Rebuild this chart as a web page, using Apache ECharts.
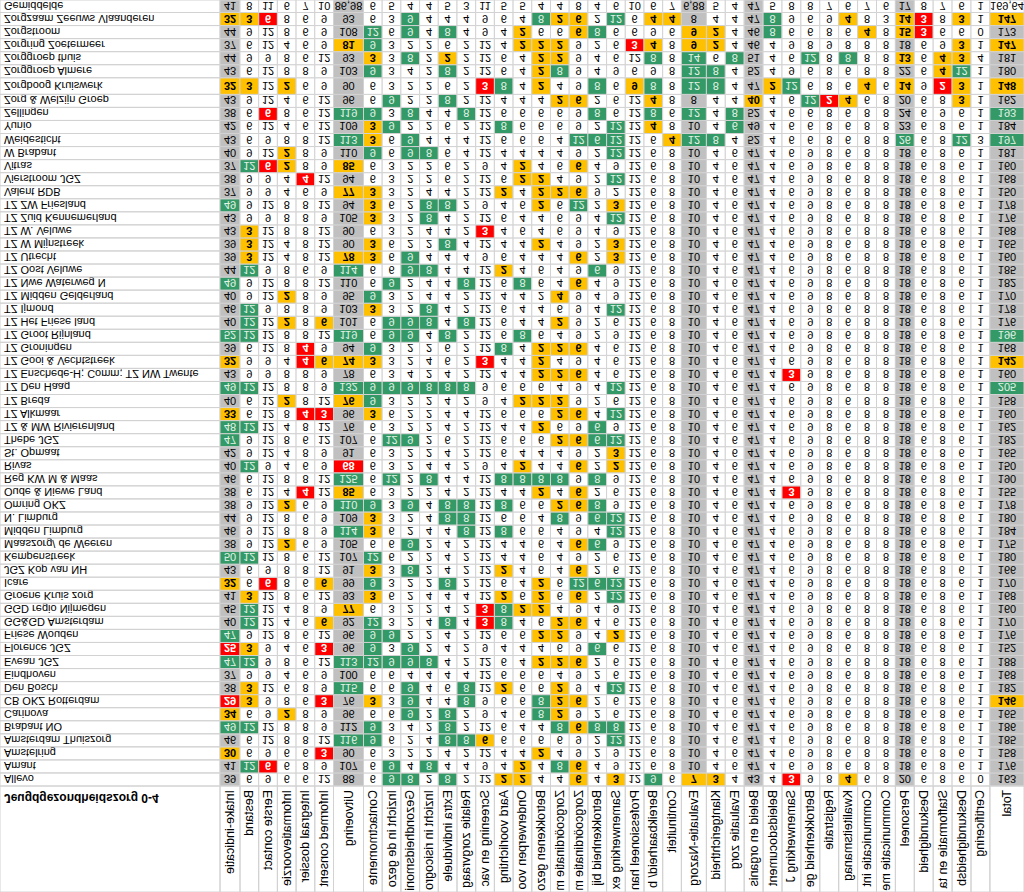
<!DOCTYPE html>
<html>
<head>
<meta charset="utf-8">
<title>Jeugdgezondheidszorg 0-4</title>
<script src="https://cdn.jsdelivr.net/npm/echarts@6.0.0/dist/echarts.min.js"></script>
<style>
  html, body { margin: 0; padding: 0; background: #fff; }
  #chart { width: 1024px; height: 892px; transform: scaleY(-1); }
</style>
</head>
<body>
<div id="chart"></div>
<script>
// kolomkoppen
const columns = [
  'Intake-indicatie', 'Bestand', 'Eerste contact', 'Informatievoorziening', 'Integraal dossier',
  'Informed consent', 'Uitvoering', 'Contactmomenten', 'Inzicht in de gezondheidssituatie',
  'Gezondheidsmonitor', 'Inzicht in risicogroepen', 'Extra individuele zorgvraag',
  'Relatie zorgvraag en gezondheid', 'Screening en vaccinatie', 'Aard voorlichting (GI 33)',
  'Onderwerpen voorlichting', 'Betrokkenen gezondheidszorg', 'Zorgcoördinatie met externen',
  'Zorgcoördinatie met JGZ', 'Betrokkenheid bij gemeente', 'Samenwerking extern',
  'Professioneel handelen', 'Bereikbaarheid/ beschikbaarheid', 'Continuiteit', 'Evaluatie-Nazorg',
  'Klantgerichtheid', 'Evaluatie zorg', 'Beleid en organisatie', 'Beleidsdocumenten en plannen',
  'Samenwerking JGZ 4-19', 'Betrokkenheid gemeente', 'Registratie', 'Kwaliteitsmanagement',
  'Communicatie intern', 'Communicatie met gemeente', 'Personeel', 'Deskundigheid',
  'Stafformatie en takenpakket', 'Deskundigheidsbevordering', 'Certificering', 'Total'
];

const rows = [
  'Allevo', 'Amant', 'Amstelring', 'Amsterdam Thuiszorg', 'Brabant NO', 'Carinova',
  'CB OKZ Rotterdam', 'Den Bosch', 'Eindhoven', 'Evean JGZ', 'Florence JGZ', 'Friese Wouden',
  'GG&GD Amsterdam', 'GGD regio Nijmegen', 'Groene Kruis zorg', 'Icare', 'JGZ Kop van NH',
  'Kempenstreek', 'Maaszorg/ de Weeren', 'Midden Limburg', 'N. Limburg', 'Omring OKZ',
  'Oude & Niewe Land', 'Reg KW M & Maas', 'Rivas', 'St. Opmaat', 'Thebe JGZ',
  'TZ & MW Rivierenland', 'TZ Alkmaar', 'TZ Breda', 'TZ Den Haag',
  'TZ Enschede-H; Comm; TZ NW Twente', 'TZ Gooi & Vechtstreek', 'TZ Groningen',
  'TZ Groot Rijnland', 'TZ Het Friese land', 'TZ Ijmond', 'TZ Midden Gelderland',
  'TZ Nwe Waterweg N', 'TZ Oost Veluwe', 'TZ Utrecht', 'TZ W Mijnstreek', 'TZ W. Veluwe',
  'TZ Zuid Kennemerland', 'TZ ZW Friesland', 'Valent RDB', 'Vierstroom JGZ', 'Vitras',
  'W Brabant', 'Weidesticht', 'Yunio', 'Zellingen', 'Zorg & Welzijn Groep',
  'Zorgboog Kruiswerk', 'Zorggroep Almere', 'Zorggroep thuis', 'Zorgring Zoetermeer',
  'Zorgstroom', 'Zorgzaam Zeeuws Vlaanderen', 'Gemiddelde'
];

// scores per organisatie, kolom voor kolom (41 kolommen)
const scores = [
  [39,6,9,6,6,12,88,6,9,8,2,8,2,12,2,2,4,4,6,4,3, 12,9,6,7,3,4,43,4,3,9,8,4,6,8,20,6,8,6,0,163],
  [41,12,6,6,8,9,107,6,9,4,8,4,4,9,4,2,4,8,6,4,9, 12,6,8,10,4,6,47,4,6,9,8,6,8,8,18,6,8,6,1,176],
  [30,6,9,6,6,3,90,6,3,2,2,4,2,12,4,4,2,4,9,2,9, 12,6,8,10,4,6,47,4,6,9,8,6,8,8,18,6,8,6,1,158],
  [46,6,12,8,8,12,116,9,6,2,4,8,8,6,6,6,6,6,9,2,12, 12,6,8,10,4,6,47,4,6,9,8,6,8,8,18,6,8,6,1,185],
  [49,12,12,8,8,9,112,9,3,4,2,8,2,12,6,4,4,8,6,8,8, 12,6,8,10,4,6,47,4,6,9,8,6,8,8,18,6,8,6,1,186],
  [34,6,9,2,8,9,96,6,6,9,2,8,2,9,4,6,8,2,9,2,6, 12,6,8,10,4,6,47,4,6,9,8,6,8,8,18,6,8,6,1,165],
  [29,3,9,8,6,3,76,3,3,9,4,4,8,9,6,6,8,2,6,2,6, 12,6,8,10,4,6,47,4,6,9,8,6,8,8,18,6,8,6,1,146],
  [38,3,12,6,8,9,115,6,6,9,4,6,8,12,2,6,6,2,9,4,12, 12,6,8,10,4,6,47,4,6,9,8,6,8,8,18,6,8,6,1,182],
  [37,9,9,4,6,9,100,6,6,4,4,4,4,12,6,6,6,4,9,2,6, 12,6,8,10,4,6,47,4,6,9,8,6,8,8,18,6,8,6,1,168],
  [47,12,9,8,6,12,113,12,9,9,8,4,2,12,6,4,2,2,6,2,6, 12,6,8,10,4,6,47,4,6,9,8,6,8,8,18,6,8,6,1,188],
  [25,3,9,4,6,3,96,9,3,9,2,4,2,9,4,4,4,6,9,6,6, 12,6,8,10,4,6,47,4,6,9,8,6,8,8,18,6,8,6,1,152],
  [47,9,12,8,6,12,96,9,9,2,2,4,2,12,6,6,2,2,9,4,2, 12,6,8,10,4,6,47,4,6,9,8,6,8,8,18,6,8,6,1,176],
  [40,12,12,4,6,6,92,12,3,2,4,8,4,3,8,4,6,2,6,4,6, 12,6,8,10,4,6,47,4,6,9,8,6,8,8,18,6,8,6,1,170],
  [45,12,12,4,8,9,77,6,3,2,2,4,2,3,8,2,2,4,9,4,9, 12,6,8,10,4,6,47,4,6,9,8,6,8,8,18,6,8,6,1,160],
  [41,3,12,8,6,12,93,3,6,2,4,4,4,12,2,6,2,6,6,2,12, 12,6,8,10,4,6,47,4,6,9,8,6,8,8,18,6,8,6,1,168],
  [32,6,6,8,6,6,99,9,3,2,2,8,2,12,6,4,2,6,12,6,12, 12,6,8,10,4,6,47,4,6,9,8,6,8,8,18,6,8,6,1,170],
  [43,6,9,8,8,12,91,3,3,8,2,4,2,12,2,4,6,4,6,2,6, 12,6,8,10,4,6,47,4,6,9,8,6,8,8,18,6,8,6,1,166],
  [50,12,12,8,6,12,107,12,6,2,2,4,2,12,4,4,6,4,9,2,6, 12,6,8,10,4,6,47,4,6,9,8,6,8,8,18,6,8,6,1,180],
  [38,9,12,2,6,9,105,6,6,9,2,4,2,12,4,4,6,4,6,6,9, 12,6,8,10,4,6,47,4,6,9,8,6,8,8,18,6,8,6,1,175],
  [46,9,12,8,8,9,114,3,6,2,4,4,8,12,8,6,6,4,9,4,12, 12,6,8,10,4,6,47,4,6,9,8,6,8,8,18,6,8,6,1,184],
  [44,9,12,8,6,9,109,3,3,2,4,8,8,12,6,6,4,8,9,6,12, 12,6,8,10,4,6,47,4,6,9,8,6,8,8,18,6,8,6,1,180],
  [38,9,12,2,6,9,110,9,3,9,4,8,8,12,8,6,6,2,6,8,9, 12,6,8,10,4,6,47,4,6,9,8,6,8,8,18,6,8,6,1,178],
  [38,6,12,4,4,12,85,6,3,2,2,4,2,12,4,4,2,4,6,2,6, 12,6,8,10,4,6,47,4,3,9,8,6,8,8,18,6,8,6,1,155],
  [46,6,12,8,8,12,125,6,12,2,8,4,4,12,8,8,8,8,9,8,9, 12,6,8,10,4,6,47,4,6,9,8,6,8,8,18,6,8,6,1,190],
  [40,12,9,4,6,9,68,6,3,2,4,4,2,9,4,2,4,4,6,2,2, 12,6,8,10,4,6,47,4,6,9,8,6,8,8,18,6,8,6,1,150],
  [42,9,12,4,8,9,91,6,3,2,2,4,2,12,6,4,4,4,9,2,3, 12,6,8,10,4,6,47,4,6,9,8,6,8,8,18,6,8,6,1,165],
  [47,9,12,8,6,12,107,6,12,9,2,6,2,12,6,6,6,2,6,6,12, 12,6,8,10,4,6,47,4,6,9,8,6,8,8,18,6,8,6,1,182],
  [48,12,12,4,8,12,76,6,3,2,2,4,2,12,4,4,2,6,9,6,9, 12,6,8,10,4,6,47,4,6,9,8,6,8,8,18,6,8,6,1,162],
  [33,6,12,8,4,3,96,3,6,2,2,4,4,12,6,6,6,2,6,4,12, 12,6,8,10,4,6,47,4,6,9,8,6,8,8,18,6,8,6,1,160],
  [40,6,12,2,8,12,76,9,3,2,2,4,2,9,4,2,2,2,9,2,6, 12,6,8,10,4,6,47,4,6,9,8,6,8,8,18,6,8,6,1,158],
  [49,12,12,8,8,9,132,9,9,9,8,8,8,9,6,6,6,4,9,4,12, 12,6,8,10,4,6,47,4,6,9,8,6,8,8,18,6,8,6,1,205],
  [43,9,9,8,8,9,78,6,3,4,2,4,2,12,4,4,2,2,6,4,6, 12,6,8,10,4,6,47,4,3,9,8,6,8,8,18,6,8,6,1,160],
  [32,9,9,4,4,6,74,3,3,2,4,6,2,3,4,4,2,4,9,4,6, 12,6,8,10,4,6,47,4,6,9,8,6,8,8,18,6,8,6,1,142],
  [39,6,12,8,4,9,94,9,3,2,2,6,2,12,8,4,2,2,6,4,6, 12,6,8,10,4,6,47,4,6,9,8,6,8,8,18,6,8,6,1,168],
  [52,12,12,8,8,12,119,6,9,9,4,8,2,12,6,8,6,4,9,2,9, 12,6,8,10,4,6,47,4,6,9,8,6,8,8,18,6,8,6,1,196],
  [40,12,12,2,8,6,101,6,9,9,8,4,8,12,6,4,4,2,9,2,6, 12,6,8,10,4,6,47,4,6,9,8,6,8,8,18,6,8,6,1,176],
  [46,12,9,8,8,9,103,3,3,2,8,4,2,12,6,4,4,6,9,4,12, 12,6,8,10,4,6,47,4,6,9,8,6,8,8,18,6,8,6,1,178],
  [40,9,12,2,8,9,95,9,3,2,4,4,2,12,4,4,2,4,9,4,9, 12,6,8,10,4,6,47,4,6,9,8,6,8,8,18,6,8,6,1,170],
  [49,9,12,8,8,12,110,6,9,2,4,4,8,12,6,8,6,4,6,4,9, 12,6,8,10,4,6,47,4,6,9,8,6,8,8,18,6,8,6,1,182],
  [44,12,9,8,6,9,114,6,6,9,8,4,4,12,2,4,6,4,9,6,9, 12,6,8,10,4,6,47,4,6,9,8,6,8,8,18,6,8,6,1,185],
  [39,3,12,4,8,12,78,3,6,9,4,4,4,9,6,4,4,4,6,2,3, 12,6,8,10,4,6,47,4,6,9,8,6,8,8,18,6,8,6,1,160],
  [39,3,12,4,8,12,90,3,6,2,2,8,4,12,4,4,2,4,9,2,3, 12,6,8,10,4,6,47,4,6,9,8,6,8,8,18,6,8,6,1,165],
  [43,3,12,8,8,12,90,6,3,2,4,4,2,3,4,6,4,6,9,4,9, 12,6,8,10,4,6,47,4,6,9,8,6,8,8,18,6,8,6,1,168],
  [43,9,9,8,8,9,105,3,3,2,8,4,2,12,6,4,4,6,9,4,12, 12,6,8,10,4,6,47,4,6,9,8,6,8,8,18,6,8,6,1,176],
  [49,9,12,8,8,12,94,3,6,2,8,8,2,9,4,6,2,6,12,2,3, 12,6,8,10,4,6,47,4,6,9,8,6,8,8,18,6,8,6,1,178],
  [37,9,9,4,6,9,77,3,3,2,4,4,2,12,2,4,2,2,6,9,2, 12,6,8,10,4,6,47,4,6,9,8,6,8,8,18,6,8,6,1,150],
  [38,9,9,4,4,12,94,6,3,2,2,6,2,12,6,2,2,4,9,2,12, 12,6,8,10,4,6,47,4,6,9,8,6,8,8,18,6,8,6,1,168],
  [37,12,6,2,8,9,85,6,3,2,2,6,2,9,4,2,4,6,6,4,9, 12,6,8,10,4,6,47,4,6,9,8,6,8,8,18,6,8,6,1,160],
  [40,9,12,2,8,9,110,9,6,9,8,6,4,12,4,4,4,4,9,2,12, 12,6,8,10,4,6,47,4,6,9,8,6,8,8,18,6,8,6,1,181],
  [43,6,9,8,8,12,113,3,6,9,4,4,4,12,6,6,6,4,12,6,12, 12,6,4,12,8,4,52,4,6,6,8,6,8,8,26,6,8,12,3,197],
  [42,6,12,4,6,12,109,3,9,2,2,6,2,12,8,6,6,6,9,2,12, 12,4,8,10,4,6,49,4,6,6,8,6,8,8,23,6,8,6,1,184],
  [38,6,6,8,6,12,119,9,3,8,4,4,8,12,6,6,6,6,9,8,6, 12,8,6,12,4,8,52,4,6,6,8,6,8,8,24,6,9,6,1,193],
  [43,9,12,4,6,12,96,6,9,2,2,8,2,12,4,4,4,2,6,2,6, 12,4,8,8,4,4,40,4,6,12,2,4,6,8,20,6,8,3,1,162],
  [32,3,12,2,6,9,90,6,3,2,2,6,2,3,8,4,2,4,9,8,6, 9,8,8,12,8,4,47,2,12,6,8,6,4,6,14,9,2,3,1,148],
  [43,6,12,8,8,9,103,9,3,4,2,8,2,12,6,4,2,8,9,4,9, 6,9,8,12,8,4,52,4,9,6,8,6,8,8,22,6,4,12,1,180],
  [44,9,9,8,6,12,93,3,3,8,2,2,2,12,6,4,2,2,9,4,6, 12,8,8,14,6,8,51,4,6,12,8,8,8,8,13,6,4,3,4,181],
  [37,6,12,4,6,9,81,9,3,2,2,6,2,12,4,2,2,2,9,2,6, 3,4,8,9,2,4,46,4,9,8,9,8,8,8,18,6,9,3,1,147],
  [44,9,12,8,6,9,108,12,6,9,4,8,4,9,4,2,6,6,6,8,6, 6,9,6,9,2,4,46,8,6,6,8,6,4,8,15,3,6,6,0,173],
  [32,3,6,8,6,9,93,6,3,9,4,4,4,9,6,4,8,2,6,2,12, 6,4,4,8,4,4,47,8,9,6,9,4,8,3,14,3,8,3,1,147],
  [41,8,11,6,7,10,86.98,6,5,4,4,5,3,11,5,5,4,4,8,4,6, 10,6,7,6.88,5,4,47,5,8,8,7,6,7,6,17,8,7,6,1,169.64]
];

// beoordeling per cel: g = ruim voldoende, y = onvoldoende, r = ruim onvoldoende, w = geen markering
const flags = [
  '........gg.g..yy..y.y' + '.g.yy...r..y........',
  '.gr.....g.g....y.gy..' + '....................',
  'y....r..........y....' + '....................',
  '......gg...ggy......g' + '....................',
  'gg.....g...g.....gygg' + '....................',
  'y..y.....g.g....gy...' + '....................',
  'ry...r.y.g..g...gyy..' + '...................y',
  '.y....g..g..g.y..y..g' + '....................',
  '.....................' + '....................',
  'gg....ggggg.....yyy..' + '....................',
  'ry...r.g.g.........g.' + '....................',
  'g......gg.......yy..y' + '....................',
  '.g...y.g...g.rg..yy..' + '....................',
  '.g....y......rgyy....' + '....................',
  '.y.....y......y.y.y.g' + '....................',
  'y.r..y.g...g....y.ggg' + '....................',
  '.......y.g....y...y..' + '....................',
  'gg.....g.............' + '....................',
  '...y.....g........yg.' + '....................',
  '......gy....g.g.....g' + '....................',
  '.......y...gg....g.gg' + '....................',
  '...y..gg.g.gg.g..yyg.' + '....................',
  '....r.y.........y.y..' + '........r...........',
  '......g.g.g...gggg.g.' + '....................',
  '.g....r........y..y.y' + '....................',
  '....................y' + '....................',
  'g.......gg.......yygg' + '....................',
  'gg..............y..g.' + '....................',
  'y...rr.y.........yy.g' + '....................',
  '...y..yg.......yyy...' + '....................',
  'gg....ggggggg.......g' + '...................g',
  '................yyy..' + '........r...........',
  'y...ryyy.....r..y....' + '...................y',
  '....r..g......g.yyy..' + '....................',
  'gg....g.gg.g...g.....' + '...................g',
  '.g.y.y..ggg.g....y...' + '....................',
  '.g.....y..g.........g' + '....................',
  '...y...g.........y...' + '....................',
  'g.......g...g..g..y..' + '....................',
  '.g....g..gg...y....g.' + '....................',
  '.y....yy.g........y.y' + '....................',
  '.y.....y...g....y...y' + '....................',
  '.y...........r.......' + '....................',
  '.......y..g.........g' + '....................',
  'g......y..gg....y.g.y' + '....................',
  '......yy......y.yyy..' + '....................',
  '....r..........yy...g' + '....................',
  '.gry..y........y..y..' + '....................',
  '...y...g.gg.........g' + '....................',
  '......gy.g........ggg' + '..ygg.........g..g.g',
  '.......yg.....g.....g' + '.y...g..............',
  '..r...gg.g..g......g.' + '.g.g.g.............g',
  '........g..g.....yy..' + '.y....y..gry.....y..',
  'yy.y.........rg.y..g.' + 'yg.gg..yg...y.y.ry.y',
  '.......g...g....yg...' + '...gg...........yg..',
  '.......y.g.y....yy...' + '.g.g.g...g.g..y.yy..',
  '......yg.......yyy...' + 'ry.yy............y.y',
  '.......g.g.g...y..yg.' + '...yy..g....y.yr....',
  'yyr......g......gyy.g' + '.yy....g...y..yr.y.y',
  '.....................' + '...................w'
];

// opmaak
const labelWidth = 220;
const headerHeight = 106;
const colWidths = [
  20, 18.7, 18.7, 18.7, 18.7, 18.7, 30,
  18.7, 18.7, 18.7, 18.7, 18.7, 18.7, 18.7, 18.7, 18.7, 18.7, 18.7, 18.7, 18.7, 18.7, 18.7, 18.7, 18.7,
  25,
  18.9, 18.9, 18.9, 18.9, 18.9, 18.9, 18.9, 18.9, 18.9, 18.9, 18.9, 18.9, 18.9, 18.9, 18.9,
  34.1
];
const rowHeights = rows.map(n => n === 'Zorgboog Kruiswerk' ? 16.6 : (n === 'Gemiddelde' ? 12.5 : 13.05));
const grayCols = [0, 6, 24, 27, 35, 40];
const fills = { g: '#339966', y: '#ffc000', r: '#ff0000', w: '#ffffff' };
const GRAY = '#c0c0c0';
const LINE = '#d2d2d2';
const NUM_FONT = 'Arial, "Liberation Sans", sans-serif';
const LABEL_FONT = '"Liberation Sans Narrow", Arial, sans-serif';

const colEdges = [labelWidth];
colWidths.forEach(w => colEdges.push(colEdges[colEdges.length - 1] + w));
const rowEdges = [0];
rowHeights.forEach(h => rowEdges.push(rowEdges[rowEdges.length - 1] + h));

function fmt(v) {
  if (v == null) return '';
  return Number.isInteger(v) ? String(v) : v.toFixed(2).replace('.', ',');
}

const cellData = [];
rows.forEach((_, r) => columns.forEach((_, c) => cellData.push([c, r])));

function box(api, x0, x1, r) {
  const a = api.coord([x0, rowEdges[r]]);
  const b = api.coord([x1, rowEdges[r + 1]]);
  return { x: a[0], y: a[1], width: b[0] - a[0], height: b[1] - a[1] };
}

function renderCell(params, api) {
  const c = api.value(0), r = api.value(1);
  const s = box(api, colEdges[c], colEdges[c + 1], r);
  const f = flags[r][c] || '.';
  let fill = grayCols.includes(c) ? GRAY : '#ffffff';
  if (fills[f]) fill = fills[f];
  let color = '#000', weight = 'normal';
  if (f === 'y') weight = 'bold';
  if (f === 'r') { color = '#ffffff'; weight = 'bold'; }
  if (f === 'g') color = '#e3f3e6';
  return {
    type: 'group',
    children: [
      { type: 'rect', shape: s, style: { fill, stroke: LINE, lineWidth: 1 } },
      { type: 'text', x: s.x + s.width / 2, y: s.y + s.height / 2 + 0.5,
        style: { text: fmt(scores[r][c]), align: 'center', verticalAlign: 'middle',
          fontFamily: NUM_FONT, fontSize: 11, fontWeight: weight, fill: color } }
    ]
  };
}

function renderRowLabel(params, api) {
  const r = api.value(1);
  const s = box(api, 0, labelWidth, r);
  return {
    type: 'group',
    children: [
      { type: 'rect', shape: s, style: { fill: 'none', stroke: LINE, lineWidth: 1 } },
      { type: 'text', x: s.x + 4, y: s.y + s.height / 2 + 0.5,
        style: { text: rows[r], align: 'left', verticalAlign: 'middle',
          fontFamily: LABEL_FONT, fontSize: 11, fill: '#000' } }
    ]
  };
}

function renderHeader(params, api) {
  const c = api.value(0);
  const top = params.coordSys.y;
  if (c < 0) {
    const a = api.coord([0, 0]);
    const b = api.coord([labelWidth, 0]);
    return { type: 'rect', shape: { x: a[0], y: 0, width: b[0] - a[0], height: top },
      style: { fill: 'none', stroke: LINE, lineWidth: 1 } };
  }
  const a = api.coord([colEdges[c], 0]);
  const b = api.coord([colEdges[c + 1], 0]);
  return {
    type: 'group',
    children: [
      { type: 'rect', shape: { x: a[0], y: 0, width: b[0] - a[0], height: top },
        style: { fill: 'none', stroke: LINE, lineWidth: 1 } },
      { type: 'text', x: (a[0] + b[0]) / 2, y: top - 4, rotation: Math.PI / 2,
        style: { text: columns[c], align: 'left', verticalAlign: 'middle',
          width: top - 3, overflow: 'truncate', ellipsis: '',
          fontFamily: LABEL_FONT, fontSize: 12.5, fill: '#000' } }
    ]
  };
}

const chart = echarts.init(document.getElementById('chart'), null, { renderer: 'svg' });

chart.setOption({
  animation: false,
  title: {
    text: 'Jeugdgezondheidszorg 0-4',
    left: 4, top: 88, padding: 0,
    textStyle: { fontFamily: NUM_FONT, fontSize: 12, fontWeight: 'bold', color: '#000' }
  },
  grid: { left: 0, right: 0, top: headerHeight, bottom: 0 },
  xAxis: { type: 'value', min: 0, max: colEdges[colEdges.length - 1], show: false },
  yAxis: { type: 'value', min: 0, max: rowEdges[rowEdges.length - 1], inverse: true, show: false },
  series: [
    { type: 'custom', renderItem: renderRowLabel, data: rows.map((_, r) => [0, r]),
      encode: { x: 0, y: 1 }, clip: false, silent: true },
    { type: 'custom', renderItem: renderCell, data: cellData,
      encode: { x: 0, y: 1 }, clip: false, silent: true },
    { type: 'custom', renderItem: renderHeader, data: [[-1, 0]].concat(columns.map((_, c) => [c, 0])),
      encode: { x: 0, y: 1 }, clip: false, silent: true }
  ]
});
</script>
</body>
</html>
